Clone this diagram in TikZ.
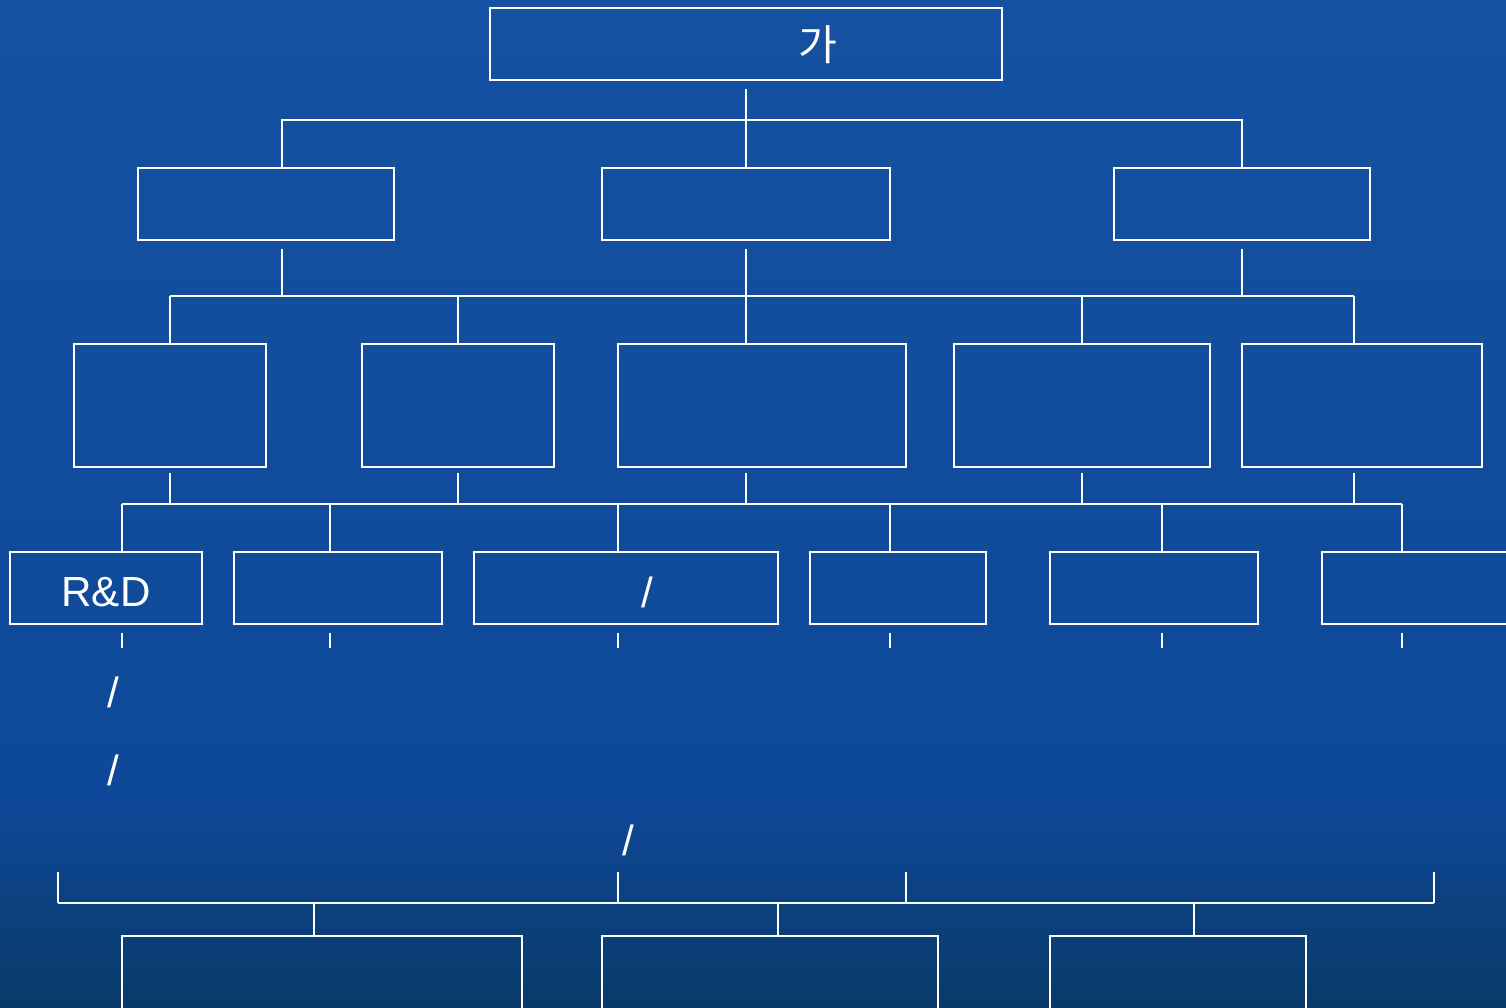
\documentclass[tikz,border=0pt]{standalone}
\usepackage{fontspec}
\setmainfont{Liberation Sans}
\newfontfamily\kor{Noto Sans CJK KR}
\usetikzlibrary{calc}
\definecolor{bgtop}{HTML}{1551A2}
\definecolor{bgmid}{HTML}{0E4898}
\definecolor{bgbot}{HTML}{0A3A68}
\tikzset{
  every picture/.style={font=\fontsize{24}{28}\selectfont, line width=1.1pt},
  orgbox/.style={draw=white, rectangle, inner sep=0pt},
  link/.style={draw=white, line width=1.1pt},
  word/.style={text=white, inner sep=0pt},
}
\begin{document}
\begin{tikzpicture}[x=0.02cm, y=-0.02cm]
  \useasboundingbox (0,0) rectangle (1506,1007);
  \clip (0,0) rectangle (1506,1007);
  \shade[top color=bgtop, bottom color=bgmid] (0,0) rectangle (1506,800);
  \shade[top color=bgmid, bottom color=bgbot] (0,799) rectangle (1506,1007);
  % top
  \node[orgbox, minimum width=10.24cm, minimum height=1.44cm] (top) at (746,44) {};
  \node[word, font=\kor\fontsize{24}{28}\selectfont] (toplbl) at (818,45) {가};
  % second row
  \node[orgbox, minimum width=5.12cm, minimum height=1.44cm] (b1) at (266,204) {};
  \node[orgbox, minimum width=5.76cm, minimum height=1.44cm] (b2) at (746,204) {};
  \node[orgbox, minimum width=5.12cm, minimum height=1.44cm] (b3) at (1242,204) {};
  % third row
  \node[orgbox, minimum width=3.84cm, minimum height=2.46cm] (c1) at (170,405.5) {};
  \node[orgbox, minimum width=3.84cm, minimum height=2.46cm] (c2) at (458,405.5) {};
  \node[orgbox, minimum width=5.76cm, minimum height=2.46cm] (c3) at (762,405.5) {};
  \node[orgbox, minimum width=5.12cm, minimum height=2.46cm] (c4) at (1082,405.5) {};
  \node[orgbox, minimum width=4.80cm, minimum height=2.46cm] (c5) at (1362,405.5) {};
  % fourth row
  \node[orgbox, minimum width=3.84cm, minimum height=1.44cm] (d1) at (106,588) {};
  \node[orgbox, minimum width=4.16cm, minimum height=1.44cm] (d2) at (338,588) {};
  \node[orgbox, minimum width=6.08cm, minimum height=1.44cm] (d3) at (626,588) {};
  \node[orgbox, minimum width=3.52cm, minimum height=1.44cm] (d4) at (898,588) {};
  \node[orgbox, minimum width=4.16cm, minimum height=1.44cm] (d5) at (1154,588) {};
  \node[orgbox, minimum width=4.16cm, minimum height=1.44cm] (d6) at (1426,588) {};
  \node[word] (rnd) at (106,592) {R\&D};
  \node[word] (d3lbl) at (647,592) {/};
  % bottom row
  \node[orgbox, minimum width=8.00cm, minimum height=2.28cm] (e1) at (322,993) {};
  \node[orgbox, minimum width=6.72cm, minimum height=2.28cm] (e2) at (770,993) {};
  \node[orgbox, minimum width=5.12cm, minimum height=2.28cm] (e3) at (1178,993) {};
  % loose slashes
  \node[word] (s1) at (113,692) {/};
  \node[word] (s2) at (113,770) {/};
  \node[word] (s3) at (628,840) {/};
  % buses
  \coordinate (bus1w) at (282,120);
  \coordinate (bus1e) at (1242,120);
  \coordinate (bus2w) at (170,296);
  \coordinate (bus2e) at (1354,296);
  \coordinate (bus3w) at (122,504);
  \coordinate (bus3e) at (1402,504);
  \coordinate (bus4w) at (58,903);
  \coordinate (bus4e) at (1434,903);
  % top to second row
  \draw[link, shorten <=0.16cm] (top.south) -- (b2.north);
  \draw[link] (b1.north -| bus1w) -- (bus1w) -- (bus1e) -- (b3.north -| bus1e);
  % second to third row
  \draw[link, shorten <=0.16cm] (b1.south -| bus1w) -- (bus2w -| bus1w);
  \draw[link, shorten <=0.16cm] (b2.south) -- (c3.north -| b2.south);
  \draw[link, shorten <=0.16cm] (b3.south) -- (bus2e -| b3.south);
  \draw[link] (bus2w) -- (bus2e);
  \foreach \n/\x in {c1/170, c2/458, c3/746, c4/1082, c5/1354}
    \draw[link] (\x,296) -- (\n.north -| \x,0);
  % third to fourth row
  \foreach \n/\x in {c1/170, c2/458, c3/746, c4/1082, c5/1354}
    \draw[link, shorten <=0.1cm] (\n.south -| \x,0) -- (\x,504);
  \draw[link] (bus3w) -- (bus3e);
  \foreach \n/\x in {d1/122, d2/330, d3/618, d4/890, d5/1162, d6/1402}
    \draw[link] (\x,504) -- (\n.north -| \x,0);
  % ticks under fourth row
  \foreach \n/\x in {d1/122, d2/330, d3/618, d4/890, d5/1162, d6/1402}
    \draw[link, shorten <=0.16cm] (\n.south -| \x,0) -- (\x,648);
  % bottom bracket
  \draw[link] (bus4w) -- (bus4e);
  \foreach \x in {58, 618, 906, 1434}
    \draw[link] (\x,872) -- (\x,903);
  \foreach \n/\x in {e1/314, e2/778, e3/1194}
    \draw[link] (\x,903) -- (\n.north -| \x,0);
\end{tikzpicture}
\end{document}
